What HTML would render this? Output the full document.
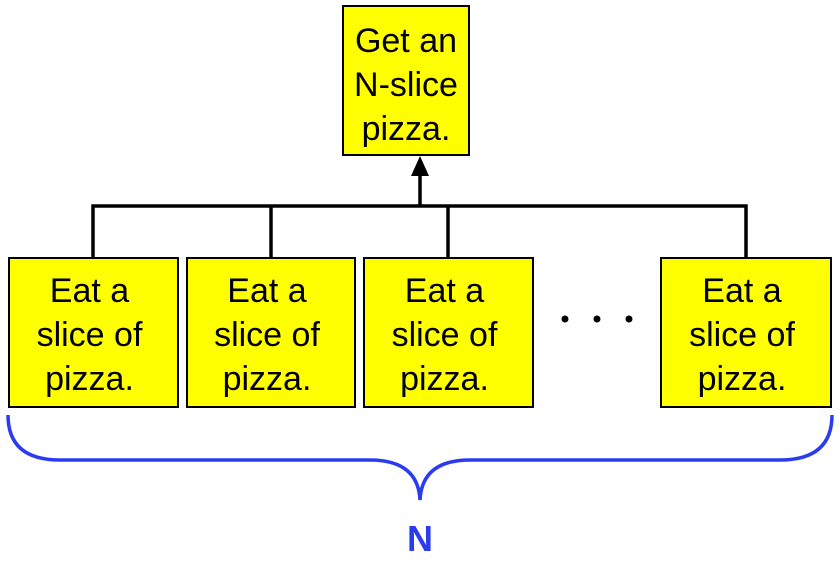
<!DOCTYPE html>
<html><head><style>
body{margin:0;width:839px;height:583px;background:#fff;overflow:hidden;position:relative;font-family:"Comic Sans MS","Liberation Sans",sans-serif;}
.b{position:absolute;background:#ffff00;border:2px solid #000;box-sizing:border-box;text-align:center;font-size:34px;line-height:44px;color:#000;}
.s{padding-right:8px}
</style></head><body>
<svg width="839" height="583" style="position:absolute;left:0;top:0">
<g stroke="#000" stroke-width="3.5" fill="none">
<path d="M93 257V206H746V257M271 206V257M448 206V257M420 206V172"/>
</g>
<polygon points="420,156 411,176 429,176" fill="#000"/>
<path d="M8 415 Q8 460 60 460 L370 460 Q418 460 420 500 Q422 460 470 460 L780 460 Q832 460 832 415" stroke="#2b3cf0" stroke-width="3.5" fill="none"/>
<circle cx="565" cy="319" r="3.5" fill="#000"/><circle cx="597" cy="319" r="3.5" fill="#000"/><circle cx="629" cy="319" r="3.5" fill="#000"/>
<text x="420" y="551" text-anchor="middle" font-size="36" font-weight="600" fill="#2b3cf0" font-family="Comic Sans MS, Liberation Sans, sans-serif">N</text>
</svg>
<div class="b" style="left:342px;top:5px;width:128px;height:151px;padding-top:12px">Get an<br>N-slice<br>pizza.</div>
<div class="b s" style="left:8px;top:257px;width:171px;height:151px;padding-top:10px">Eat a<br>slice of<br>pizza.</div>
<div class="b s" style="left:186px;top:257px;width:170px;height:151px;padding-top:10px">Eat a<br>slice of<br>pizza.</div>
<div class="b s" style="left:363px;top:257px;width:171px;height:151px;padding-top:10px">Eat a<br>slice of<br>pizza.</div>
<div class="b s" style="left:660px;top:257px;width:172px;height:151px;padding-top:10px">Eat a<br>slice of<br>pizza.</div>
</body></html>
